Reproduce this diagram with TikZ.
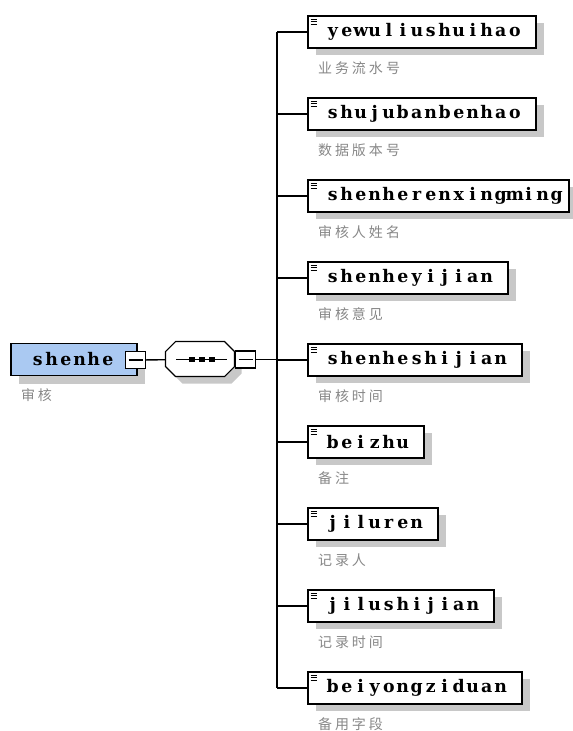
\documentclass[tikz,border=0pt]{standalone}
\usepackage{fontspec}
\newfontfamily\elemfont{DejaVu Serif}
\newfontfamily\cjkfont{Noto Sans CJK SC}
\usetikzlibrary{shadows}

\definecolor{rootblue}{RGB}{170,201,242}
\definecolor{labelgray}{RGB}{135,135,135}
\definecolor{shadowgray}{RGB}{200,200,200}

% every letter in a cell of its own
\newcommand\celltext[2][10.5pt]{\def\cellwd{#1}\celltextaux#2\relax}
\def\celltextaux#1{\ifx\relax#1\else\makebox[\cellwd]{#1}\expandafter\celltextaux\fi}
% the small lines at the top left of an element box
\newcommand\elemicon[1]{\foreach \k in {0,1,2} \draw[line width=0.75pt] (#1.north west) ++(3.5,4.5+2.2*\k) -- ++(6.5,0);}

\tikzset{every picture/.style={line width=0.75pt}}
\tikzset{
  boxbase/.style={draw, line width=1.2pt, fill=white, anchor=west, minimum height=24pt, inner xsep=0pt, inner ysep=0pt,
    font={\elemfont\bfseries\fontsize{13}{15}\selectfont}},
  elembox/.style={boxbase,
    execute at begin node={\hspace*{13.5pt}}, execute at end node={\hspace*{#1}},
    drop shadow={shadow xshift=6pt, shadow yshift=-5pt, fill=shadowgray, opacity=1}},
  elembox/.default=10.5pt,
  rootbox/.style={boxbase, fill=rootblue,
    execute at begin node={\hspace*{15pt}}, execute at end node={\hspace*{16.5pt}},
    drop shadow={shadow xshift=6pt, shadow yshift=-6pt, fill=shadowgray, opacity=1}},
  minusbox/.style={draw, fill=white, line width=0.8pt, minimum width=15pt, minimum height=12.75pt, inner sep=0pt,
    path picture={\draw[line width=0.8pt] (path picture bounding box.west) ++(3,0) -- ++(14,0);}},
  seqbox/.style={inner sep=0pt, minimum width=51.75pt, minimum height=26.25pt},
  seqline/.style={draw, fill=white, line width=0.8pt},
  cnlabel/.style={anchor=west, inner sep=0pt, text=labelgray, font={\cjkfont\fontsize{10.5}{12}\selectfont}},
  link/.style={line width=1pt}
}

\begin{document}
\begin{tikzpicture}[x=0.75pt,y=0.75pt,yscale=-1,xscale=1]
        \useasboundingbox (0,0) rectangle (573,731);

        %Root element
        \node[rootbox] (shenhe) at (10,359.5) {\celltext{shenhe}};
        \node[cnlabel] (shenhe-cn) at (19,395) {\celltext[12.75pt]{审核}};
        \node[minusbox] (shenhe-min) at (135.5,360) {};

        %Sequence
        \node[seqbox] (seq) at (200.5,359.5) {};
        \fill[shadowgray] (seq.north west) ++(7,17) -- ++(10,-10) -- ++(49,0) -- ++(10,10) -- ++(0,15) -- ++(-10,10) -- ++(-49,0) -- ++(-10,-10) -- cycle;
        \path[seqline] (seq.north west) ++(0,10) -- ++(10,-10) -- ++(49,0) -- ++(10,10) -- ++(0,15) -- ++(-10,10) -- ++(-49,0) -- ++(-10,-10) -- cycle;
        \draw[line width=1pt] (seq.center) +(-24.5,0) -- +(26.5,0);
        \fill (seq.center) +(-11.5,-2.5) rectangle +(-5.5,2.5);
        \fill (seq.center) +(-2,-2.5) rectangle +(4,2.5);
        \fill (seq.center) +(8,-2.5) rectangle +(14,2.5);
        \node[minusbox] (seq-min) at (245.5,359.5) {};
        \coordinate (trunk) at (277,359.5);

        %Child elements
        \node[elembox] (yewu) at (307,32) {\celltext{yewuliushuihao}};
        \node[cnlabel] (yewu-cn) at (316,68) {\celltext[12.75pt]{业务流水号}};
        \node[elembox] (shuju) at (307,114) {\celltext{shujubanbenhao}};
        \node[cnlabel] (shuju-cn) at (316,150) {\celltext[12.75pt]{数据版本号}};
        \node[elembox=3.75pt] (shenheren) at (307,196) {\celltext{shenherenxingming}};
        \node[cnlabel] (shenheren-cn) at (316,232) {\celltext[12.75pt]{审核人姓名}};
        \node[elembox] (yijian) at (307,278) {\celltext{shenheyijian}};
        \node[cnlabel] (yijian-cn) at (316,314) {\celltext[12.75pt]{审核意见}};
        \node[elembox] (shijian) at (307,360) {\celltext{shenheshijian}};
        \node[cnlabel] (shijian-cn) at (316,396) {\celltext[12.75pt]{审核时间}};
        \node[elembox] (beizhu) at (307,442) {\celltext{beizhu}};
        \node[cnlabel] (beizhu-cn) at (316,478) {\celltext[12.75pt]{备注}};
        \node[elembox] (jiluren) at (307,524) {\celltext{jiluren}};
        \node[cnlabel] (jiluren-cn) at (316,560) {\celltext[12.75pt]{记录人}};
        \node[elembox] (jilushijian) at (307,606) {\celltext{jilushijian}};
        \node[cnlabel] (jilushijian-cn) at (316,642) {\celltext[12.75pt]{记录时间}};
        \node[elembox] (beiyong) at (307,688) {\celltext{beiyongziduan}};
        \node[cnlabel] (beiyong-cn) at (316,724) {\celltext[12.75pt]{备用字段}};

        %Icons
        \elemicon{yewu} \elemicon{shuju} \elemicon{shenheren}
        \elemicon{yijian} \elemicon{shijian} \elemicon{beizhu}
        \elemicon{jiluren} \elemicon{jilushijian} \elemicon{beiyong}

        %Connectors
        \draw[link] (shenhe-min) -- (seq);
        \draw[link] (seq-min) -- (trunk);
        \draw[link] (yewu.west -| trunk) -- (beiyong.west -| trunk);
        \draw[link] (yewu.west -| trunk) -- (yewu);
        \draw[link] (shuju.west -| trunk) -- (shuju);
        \draw[link] (shenheren.west -| trunk) -- (shenheren);
        \draw[link] (yijian.west -| trunk) -- (yijian);
        \draw[link] (shijian.west -| trunk) -- (shijian);
        \draw[link] (beizhu.west -| trunk) -- (beizhu);
        \draw[link] (jiluren.west -| trunk) -- (jiluren);
        \draw[link] (jilushijian.west -| trunk) -- (jilushijian);
        \draw[link] (beiyong.west -| trunk) -- (beiyong);

\end{tikzpicture}
\end{document}
